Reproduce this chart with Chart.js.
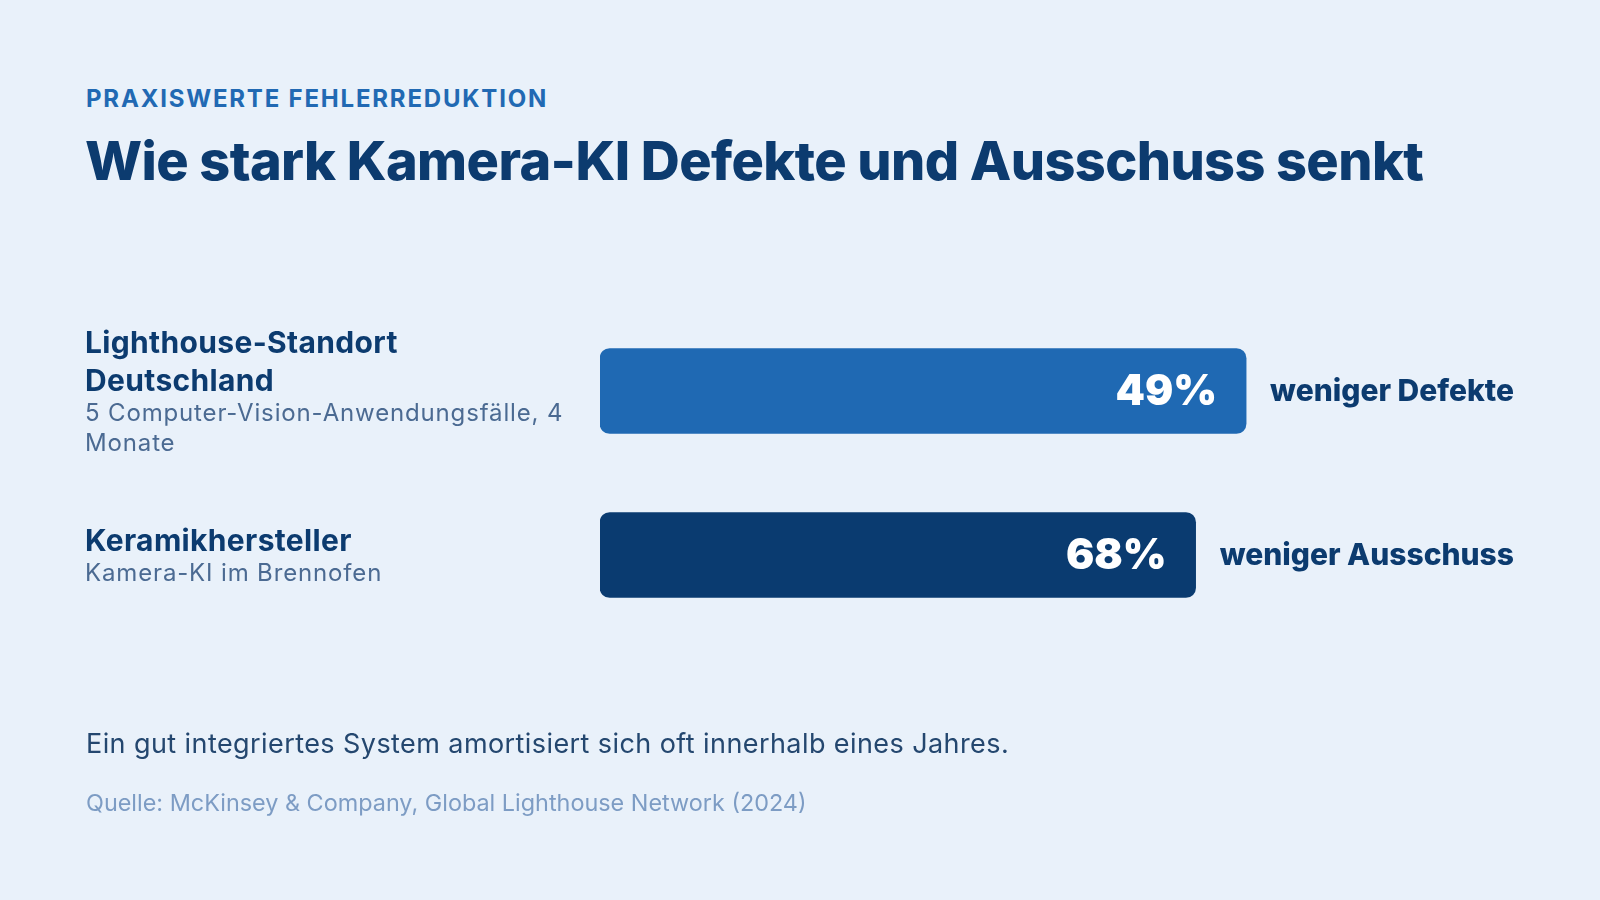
<!DOCTYPE html>
<html lang="de">
<head>
<meta charset="utf-8">
<title>Wie stark Kamera-KI Defekte und Ausschuss senkt</title>
<script src="https://cdn.jsdelivr.net/npm/chart.js@4.4.1/dist/chart.umd.min.js"></script>
<style>
    html, body { margin: 0; padding: 0; background: #e9f1fa; }
    body { width: 1600px; height: 900px; position: relative; overflow: hidden; font-family: Inter, 'Noto Sans', sans-serif; }
    #chart { position: absolute; left: 0; top: 0; }
    .eyebrow { position: absolute; left: 86px; top: 86px; margin: 0; font-size: 24px; line-height: 26px; font-weight: 700; letter-spacing: 1.8px; color: #2169b3; }
    h1 { position: absolute; left: 85px; top: 129px; margin: 0; font-size: 54px; line-height: 64px; font-weight: 800; letter-spacing: -0.6px; color: #0c3b6f; }
    .note { position: absolute; left: 86px; top: 727px; margin: 0; font-size: 27px; line-height: 34px; letter-spacing: 0.42px; color: #24476f; }
    .source { position: absolute; left: 86px; top: 789px; margin: 0; font-size: 23.4px; line-height: 28px; color: #7d9cc4; }
</style>
</head>
<body>
<p class="eyebrow">PRAXISWERTE FEHLERREDUKTION</p>
<h1>Wie stark Kamera-KI Defekte und Ausschuss senkt</h1>
<canvas id="chart" width="1600" height="900"></canvas>
<p class="note">Ein gut integriertes System amortisiert sich oft innerhalb eines Jahres.</p>
<p class="source">Quelle: McKinsey &amp; Company, Global Lighthouse Network (2024)</p>

<script>
    // Daten
    const categories = [['Lighthouse-Standort', 'Deutschland'], ['Keramikhersteller']];
    const categoryNotes = [['5 Computer-Vision-Anwendungsfälle, 4', 'Monate'], ['Kamera-KI im Brennofen']];
    const reductionPct = [49, 68];
    const effectLabels = ['weniger Defekte', 'weniger Ausschuss'];

    // Stil
    const barColors = ['#1f69b3', '#0a3b70'];
    const PAD = { left: 600, right: 86, top: 309, bottom: 263 };
    const LABEL_X = 85;
    const GAP = 24;
    const EFFECT_FONT = '800 30px Inter';

    // Balken enden dort, wo die Beschriftung rechts beginnt
    function fitTrack(i) {
        return function(scale) {
            const chart = scale.chart;
            const ctx = chart.ctx;
            ctx.save();
            ctx.font = EFFECT_FONT;
            const w = ctx.measureText(effectLabels[i]).width;
            ctx.restore();
            const left = PAD.left;
            const right = chart.width - PAD.right;
            const end = right - w - GAP;
            scale.min = 0;
            scale.max = reductionPct[i] * (right - left) / (end - left);
        };
    }

    const rowLabels = {
        id: 'rowLabels',
        afterDatasetsDraw(chart) {
            const ctx = chart.ctx;
            const yScale = chart.scales.y;
            ctx.save();
            ctx.textBaseline = 'middle';
            categories.forEach((lines, i) => {
                const notes = categoryNotes[i];
                const cy = yScale.getPixelForValue(i);
                let y = cy - (lines.length * 38 + notes.length * 30) / 2;

                ctx.textAlign = 'left';
                ctx.fillStyle = '#0c3b6f';
                ctx.font = '700 30px Inter';
                ctx.letterSpacing = '0.35px';
                lines.forEach(t => { ctx.fillText(t, LABEL_X, y + 21); y += 38; });
                ctx.fillStyle = '#4b6a92';
                ctx.font = '400 24px Inter';
                ctx.letterSpacing = '0.85px';
                notes.forEach(t => { ctx.fillText(t, LABEL_X, y + 15); y += 30; });
                ctx.letterSpacing = '0px';

                const bar = chart.getDatasetMeta(i).data[i];
                ctx.textAlign = 'right';
                ctx.fillStyle = '#ffffff';
                ctx.font = '900 42px Inter';
                ctx.fillText(reductionPct[i] + '%', bar.x - 29, bar.y + 1);

                ctx.textAlign = 'left';
                ctx.fillStyle = '#0c3b6f';
                ctx.font = EFFECT_FONT;
                ctx.fillText(effectLabels[i], bar.x + GAP, bar.y + 1);
            });
            ctx.restore();
        }
    };

    const scales = {
        y: { type: 'category', display: false, offset: true }
    };
    reductionPct.forEach((v, i) => {
        scales['x' + i] = {
            type: 'linear',
            axis: 'x',
            display: false,
            bounds: 'data',
            afterDataLimits: fitTrack(i)
        };
    });

    const datasets = reductionPct.map((v, i) => ({
        label: effectLabels[i],
        data: reductionPct.map((val, j) => (j === i ? val : null)),
        xAxisID: 'x' + i,
        backgroundColor: barColors[i],
        borderRadius: 10,
        borderSkipped: false,
        barThickness: 85,
        grouped: false
    }));

    new Chart(document.getElementById('chart'), {
        type: 'bar',
        data: {
            labels: categories.map(l => l.join(' ')),
            datasets: datasets
        },
        options: {
            indexAxis: 'y',
            responsive: false,
            animation: false,
            layout: { padding: PAD },
            scales: scales,
            plugins: {
                legend: { display: false },
                tooltip: { enabled: false }
            }
        },
        plugins: [rowLabels]
    });
</script>
</body>
</html>
